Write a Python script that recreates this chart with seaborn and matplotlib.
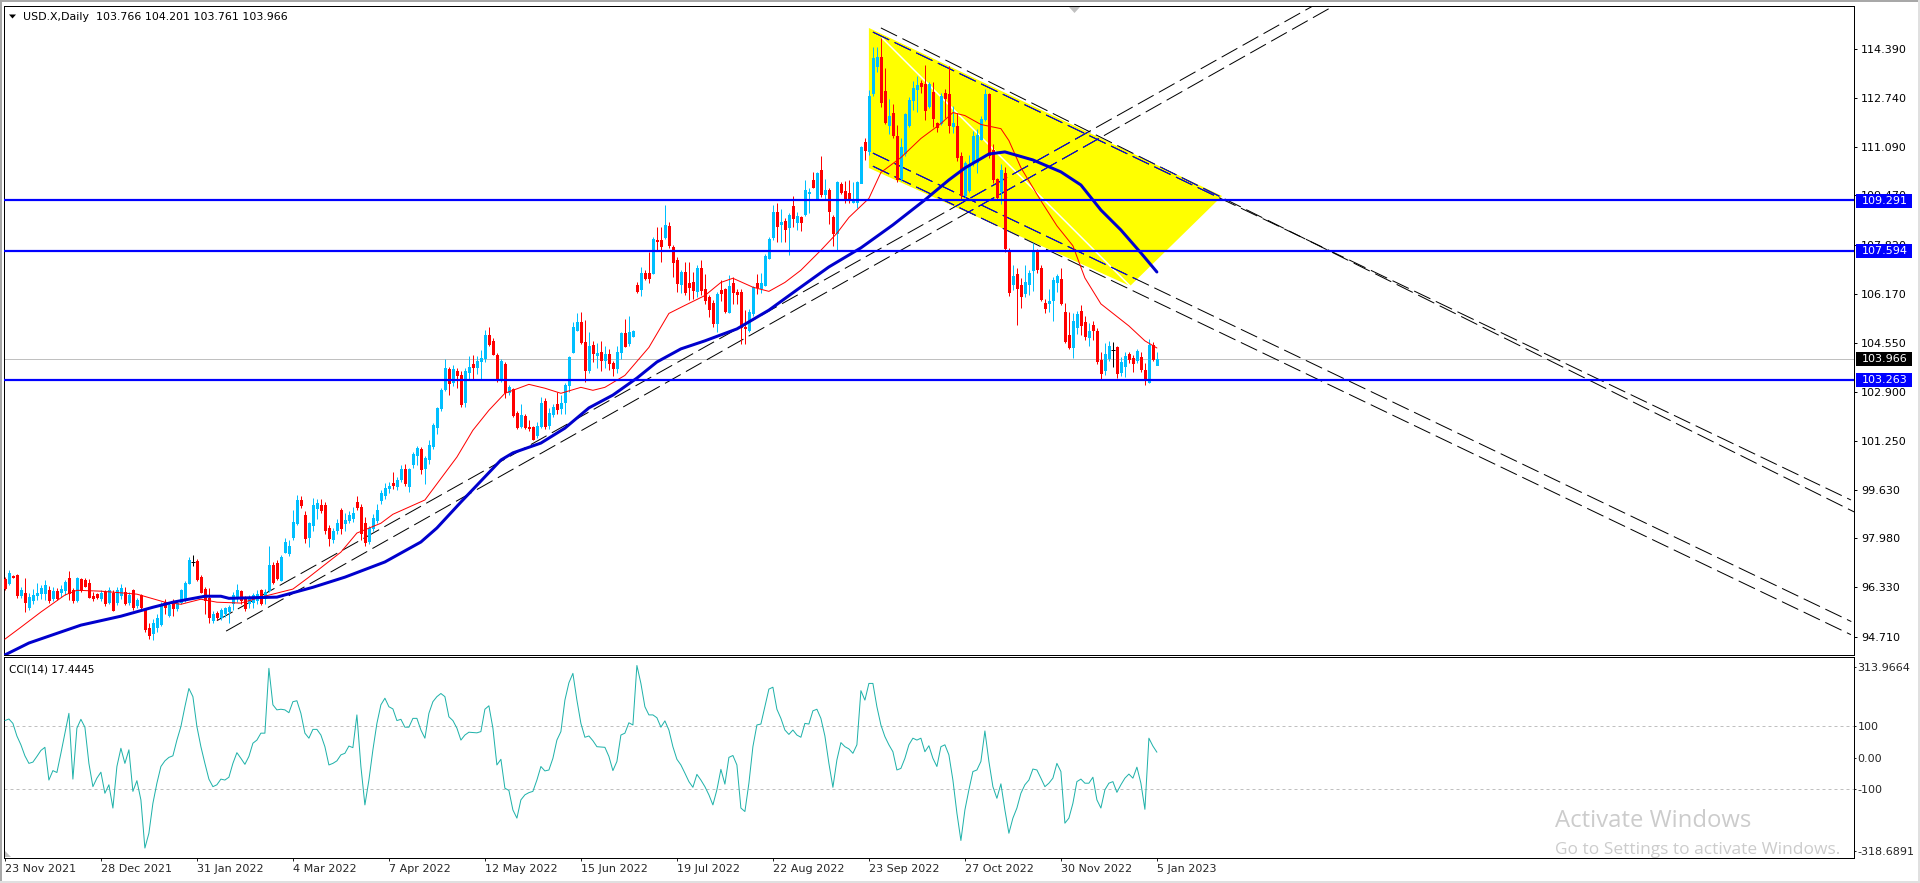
import numpy as np
import pandas as pd
import matplotlib.pyplot as plt
import seaborn as sns
from matplotlib.patches import Polygon, Rectangle
from matplotlib.transforms import blended_transform_factory

# candles, one row per 12 daily bars
opens = [
    96.58,96.43,96.69,96.71,96.04,96.10,95.65,95.87,96.04,96.10,96.10,96.21,
    95.93,96.19,96.15,96.21,96.60,96.21,95.87,96.57,96.54,96.43,96.00,96.06,
    95.93,96.15,95.82,96.10,95.82,96.04,96.15,95.82,96.21,95.71,96.04,95.54,
    94.92,94.76,94.98,95.07,95.82,95.37,95.82,95.59,95.82,95.93,96.46,97.16,
    97.19,96.66,96.23,95.93,95.20,95.43,95.29,95.43,95.52,95.76,95.93,96.19,
    95.98,95.76,95.82,95.87,96.21,95.93,96.21,97.05,97.10,96.55,97.50,97.44,
    98.00,98.45,99.23,98.73,98.00,98.39,98.95,99.06,99.06,98.28,97.91,98.22,
    98.89,98.45,98.56,98.61,99.17,99.00,98.45,97.87,98.28,98.56,99.23,99.40,
    99.62,99.79,99.70,99.92,100.28,99.70,100.43,100.74,100.95,100.29,100.60,101.04,
    101.69,102.30,102.97,103.61,103.20,103.57,103.42,102.53,103.53,103.79,103.70,103.89,
    104.00,104.76,104.57,104.09,103.25,103.79,102.86,102.94,102.14,101.71,102.05,101.69,
    101.67,101.41,101.72,102.55,101.74,102.10,102.44,102.30,102.53,103.09,104.20,104.93,
    105.20,104.54,103.59,104.43,104.09,104.20,103.93,104.13,103.81,103.65,104.20,104.84,
    104.51,104.73,106.44,106.31,106.83,106.83,106.83,107.95,107.97,108.06,108.42,107.71,
    107.28,106.48,106.89,106.52,106.55,106.24,107.00,106.30,106.03,105.85,105.18,106.27,
    106.31,105.55,106.50,106.22,106.22,105.05,104.93,105.51,106.50,106.33,106.44,107.36,
    108.06,108.90,108.49,108.60,108.40,109.09,108.57,108.71,108.83,109.52,109.97,109.35,
    110.30,109.50,109.63,108.71,108.20,109.83,109.60,109.54,109.24,109.22,109.88,111.23,
    110.95,112.88,113.80,114.11,112.96,111.82,112.21,111.45,110.03,110.86,111.82,112.65,
    113.01,113.21,113.19,112.45,112.93,111.87,111.87,112.88,112.84,111.78,111.78,110.78,
    109.47,109.63,110.58,110.58,111.33,112.00,112.86,110.98,109.99,109.61,110.19,107.56,
    106.48,106.81,106.45,106.19,106.47,106.95,107.62,107.03,105.83,105.85,105.94,106.55,
    106.64,105.54,104.77,104.38,105.05,105.57,105.21,104.71,105.10,104.90,103.93,103.59,
    104.01,104.26,104.35,103.54,103.73,104.13,104.01,103.93,104.04,103.59,103.20,104.43,
    103.766,
]
highs = [
    96.65,96.88,96.72,96.75,96.30,96.60,96.10,96.25,96.45,96.38,96.55,96.35,
    96.30,96.27,96.38,96.55,96.85,96.27,96.64,96.60,96.60,96.57,96.15,96.10,
    96.20,96.20,96.30,96.20,96.30,96.40,96.30,96.15,96.25,95.95,96.08,95.60,
    95.10,95.25,95.40,95.80,95.90,95.80,95.90,95.85,96.25,96.50,97.33,97.38,
    97.25,96.70,96.30,96.27,95.50,95.50,95.60,95.65,95.70,96.15,96.40,96.22,
    96.00,96.05,96.10,96.20,96.25,96.25,97.69,97.15,97.20,97.40,97.95,97.90,
    98.90,99.40,99.35,98.85,98.50,99.30,99.25,99.25,99.15,98.40,98.30,98.60,
    98.95,98.80,98.85,99.00,99.35,99.10,98.65,98.35,98.75,99.10,99.55,99.80,
    99.85,100.18,100.00,100.40,100.45,100.30,100.85,101.05,101.00,100.70,101.25,101.80,
    102.35,103.00,103.95,103.70,103.75,103.65,103.55,103.65,104.05,104.10,104.05,104.25,
    104.93,105.02,104.65,104.15,103.95,103.85,103.10,103.00,102.20,102.45,102.10,101.90,
    101.70,101.85,102.70,102.65,102.30,102.45,102.85,102.75,103.15,104.07,105.20,105.50,
    105.55,105.27,104.87,104.55,104.50,104.55,104.40,104.30,103.90,104.40,104.85,105.30,
    105.40,104.95,106.55,107.06,106.95,107.56,108.06,108.40,108.40,109.13,108.55,107.80,
    107.40,106.95,107.20,107.20,106.89,107.10,107.28,106.81,106.10,105.95,106.20,106.60,
    106.33,106.78,106.70,106.30,106.30,105.60,105.65,106.40,106.81,106.85,107.48,108.07,
    109.13,109.20,109.00,108.70,108.85,109.43,108.90,108.75,109.97,109.69,110.25,110.25,
    110.77,110.00,109.70,108.80,109.95,109.91,109.93,109.97,109.91,109.95,111.12,111.36,
    112.99,114.44,114.44,114.72,113.72,112.68,112.52,111.82,111.37,112.20,112.75,113.30,
    113.46,113.33,113.83,113.27,113.24,111.93,112.88,113.01,113.80,112.45,112.20,110.90,
    110.60,110.80,111.60,111.67,112.10,113.01,112.90,111.18,110.05,110.50,110.40,107.70,
    107.12,107.00,106.67,107.12,106.95,107.85,107.65,107.10,105.96,106.30,106.70,106.81,
    107.00,105.83,105.55,105.50,105.57,105.77,105.42,105.16,105.22,105.00,104.20,104.51,
    104.55,104.52,104.40,104.04,104.20,104.20,104.10,104.30,104.20,103.82,104.62,104.54,
    104.201,
]
lows = [
    96.20,96.37,96.60,95.95,95.95,95.48,95.55,95.75,95.86,95.92,95.86,95.76,
    95.85,95.87,95.98,96.04,95.87,95.76,95.82,96.15,96.30,95.93,95.85,95.90,
    95.85,95.67,95.75,95.50,95.70,95.90,95.70,95.70,95.55,95.60,95.55,94.80,
    94.55,94.53,94.80,95.00,95.40,95.30,95.35,95.50,95.75,95.80,96.40,97.00,
    96.50,96.10,95.40,95.10,95.09,95.20,95.20,95.30,95.09,95.55,95.80,95.75,
    95.50,95.60,95.60,95.75,95.70,95.75,96.15,96.40,96.55,96.50,97.45,97.35,
    97.90,98.40,98.95,97.80,97.65,98.20,98.60,98.80,98.10,97.67,97.80,98.10,
    98.10,98.20,98.45,98.50,98.90,97.90,97.67,97.75,98.20,98.45,99.10,99.25,
    99.45,99.60,99.55,99.85,99.70,99.50,100.30,100.40,100.10,99.76,100.45,100.95,
    101.45,102.20,102.90,102.75,103.05,103.00,102.35,102.35,103.30,103.30,103.45,103.30,
    103.85,104.40,104.10,103.20,103.20,102.65,102.75,102.00,101.60,101.65,101.60,101.55,
    101.25,101.30,101.65,101.60,101.60,102.00,102.10,102.10,102.10,102.85,104.15,104.90,
    104.45,103.20,103.50,103.85,103.65,103.55,103.65,103.60,103.40,103.50,103.95,104.35,
    104.40,104.70,106.16,106.07,106.60,106.50,106.80,107.60,107.22,108.00,107.70,106.70,
    106.22,106.16,106.10,105.94,105.99,106.05,106.10,105.80,105.38,105.05,104.88,105.90,
    105.50,105.50,105.80,105.80,104.48,104.46,104.85,105.40,106.14,106.16,106.40,107.30,
    107.95,107.90,107.90,107.90,107.45,108.40,108.30,108.26,108.75,108.85,109.69,109.28,
    109.40,109.30,108.50,107.75,107.62,109.50,109.18,109.18,109.20,109.02,109.85,110.64,
    110.81,112.80,113.60,112.43,111.85,111.50,111.37,109.91,109.95,110.78,111.76,112.30,
    112.26,112.88,111.98,112.38,111.74,111.59,111.80,112.04,111.56,111.53,110.60,109.30,
    109.40,109.55,110.45,110.20,111.30,111.95,110.70,109.88,109.30,109.15,107.55,106.08,
    106.28,105.10,105.66,106.05,106.10,106.25,106.85,105.90,105.49,105.55,105.22,106.20,
    105.77,104.50,104.29,104.00,104.80,104.77,104.60,104.40,104.60,103.80,103.30,103.43,
    103.90,103.70,103.31,103.40,103.37,103.82,103.52,103.82,103.51,103.09,103.17,103.90,
    103.761,
]
closes = [
    96.26,96.77,96.66,96.04,96.21,95.82,95.98,96.04,96.12,96.26,96.38,95.87,
    96.19,95.93,96.23,96.49,96.10,95.87,96.60,96.21,96.34,95.98,95.93,95.98,
    96.10,95.76,96.21,95.54,96.21,96.27,95.76,96.04,95.65,95.87,95.65,94.89,
    94.70,95.09,95.26,95.71,95.65,95.71,95.59,95.76,96.21,96.43,97.22,97.16,
    96.57,96.15,95.87,95.29,95.40,95.29,95.54,95.59,95.63,96.04,96.21,95.87,
    95.59,95.96,96.04,96.07,95.76,96.15,97.05,96.49,96.60,97.33,97.83,97.69,
    98.50,99.23,99.06,97.94,98.45,99.06,99.12,98.89,98.22,97.94,98.20,98.45,
    98.28,98.56,98.73,98.78,99.00,98.11,97.83,98.28,98.61,98.89,99.45,99.62,
    99.71,99.72,99.90,100.28,99.79,100.26,100.77,100.96,100.26,100.63,101.07,101.74,
    102.30,102.92,103.65,103.16,103.61,103.42,102.45,103.57,103.68,103.70,103.89,103.98,
    104.76,104.48,104.13,103.25,103.89,102.86,103.01,102.08,101.69,102.08,101.69,101.63,
    101.26,101.72,102.50,101.71,102.16,102.36,102.27,102.47,103.09,104.04,105.02,105.20,
    104.54,103.59,104.40,104.15,104.17,103.93,104.13,103.81,103.65,104.19,104.82,104.40,
    104.88,104.89,106.24,106.86,106.67,106.69,107.99,107.92,107.75,108.46,107.78,107.23,
    106.52,106.89,106.22,106.36,106.27,107.02,106.27,105.94,105.64,105.18,106.14,106.16,
    105.58,106.41,106.22,106.14,105.02,104.99,105.55,106.36,106.39,106.50,107.42,107.99,
    108.90,108.42,108.55,108.31,108.79,108.68,108.76,108.56,109.63,109.56,109.74,110.19,
    109.50,109.63,108.94,108.20,109.90,109.58,109.37,109.37,109.30,109.90,111.06,110.97,
    112.79,114.05,114.11,112.60,111.93,112.12,111.48,109.99,111.09,112.18,112.65,113.05,
    113.16,113.12,112.32,113.19,112.04,111.76,112.79,112.71,111.82,111.87,110.73,109.47,
    110.53,110.47,111.45,111.48,112.00,112.86,110.81,109.99,109.41,110.31,107.70,106.22,
    106.73,106.33,106.08,106.56,106.84,107.62,106.97,105.96,105.68,105.91,106.61,106.75,
    105.85,104.58,104.38,105.22,105.47,105.10,104.73,104.90,104.94,103.90,103.50,104.13,
    104.40,104.26,103.50,103.87,104.06,103.96,103.84,104.23,103.63,103.31,104.43,103.95,
    103.966,
]

# moving averages, read at the line's turning points
ma50_bars = [0,6,14,19,29,37,42,50,54,56,68,77,85,95,104,108,114,124,127,134,140,146,152,
             158,163,169,175,183,191,198,206,214,222,230,236,240,246,250,257,264,269,274,279,284,288]
ma50_vals = [94.03,94.43,94.80,95.03,95.33,95.63,95.80,96.00,96.00,95.93,95.97,96.30,96.64,
             97.15,97.82,98.29,99.16,100.57,100.81,101.14,101.64,102.32,102.75,103.32,103.86,
             104.30,104.57,104.97,105.60,106.28,107.05,107.69,108.46,109.30,109.97,110.37,
             110.84,110.91,110.64,110.24,109.80,108.96,108.29,107.52,106.88]
ma20_bars = [0,4,9,15,18,24,33,40,44,49,53,59,64,72,76,84,88,94,97,105,113,117,121,125,131,
             135,139,144,147,150,155,161,166,170,175,179,182,187,191,195,199,204,208,211,216,
             219,224,229,234,237,240,244,249,251,254,259,263,267,270,274,281,285,288]
ma20_vals = [94.56,94.96,95.47,96.04,96.20,96.17,96.07,95.80,95.73,95.90,95.80,95.77,95.97,
             96.24,96.64,97.48,98.12,98.45,98.75,99.23,100.67,101.57,102.24,102.81,103.11,
             102.98,102.81,103.01,102.91,103.01,103.41,104.35,105.49,105.76,106.09,106.53,
             106.67,106.37,106.23,106.53,106.94,107.61,108.18,108.71,109.35,110.22,110.72,
             111.36,111.86,112.23,112.13,111.83,111.69,111.29,110.38,109.27,108.43,107.76,
             106.68,105.81,105.07,104.57,104.33]

# CCI(14), one value per bar
cci_vals = [
    118,123,109,69,41,6,-18,-14,4,23,33,-71,-41,-47,14,78,141,-68,94,122,
    97,-18,-92,-65,-46,-113,-86,-160,-28,30,-18,25,-107,-73,-134,-287,-240,-145,-81,-28,
    -10,1,6,56,99,162,220,194,99,35,-18,-68,-92,-86,-68,-71,-62,-18,16,-2,
    -21,4,46,56,78,78,284,168,152,154,152,143,178,181,141,78,62,90,90,72,
    35,-23,-18,-10,9,14,37,32,136,-28,-150,-71,25,109,168,189,162,155,118,122,
    97,97,125,125,88,62,141,178,194,204,194,130,118,94,56,72,81,80,79,83,
    154,165,94,-23,-5,-97,-104,-166,-192,-134,-118,-111,-107,-71,-28,-42,-39,-2,56,83,
    183,238,268,183,109,65,69,54,35,34,33,4,-41,-12,72,78,111,104,293,
    236,162,136,136,127,97,117,88,35,-5,-23,-49,-76,-94,-53,-71,-92,-118,-150,-102,
    -37,-84,1,7,-23,-160,-171,-81,35,104,107,162,218,224,154,125,88,74,88,72,
    65,109,107,149,154,125,69,-18,-94,-7,48,35,28,14,41,213,183,236,236,162,
    104,67,41,19,-39,-34,-2,41,62,56,62,19,38,-2,-28,35,41,9,-71,-176,
    -263,-166,-102,-44,-39,-12,85,-12,-92,-129,-83,-166,-240,-192,-160,-113,-86,-71,-36,-39,
    -65,-92,-81,-65,-18,-44,-208,-192,-145,-76,-68,-81,-81,-62,-134,-160,-102,-81,-76,-110,
    -86,-65,-52,-65,-30,-81,-164,62,37,17.4445,
]

# drawn objects, as (bar, price) end points
up_channel = [((53.0, 95.18), (327.3, 115.83)), ((55.3, 94.83), (332.5, 115.83))]
down_channel = [((219.0, 115.07), (462.3, 98.83)), ((217.0, 114.93), (461.5, 99.23)),
                ((217.0, 110.87), (461.6, 95.15)), ((217.0, 110.43), (461.5, 94.71))]
yellow_bars = [216.0, 304.3, 281.3, 216.0]
yellow_prices = [115.07, 109.43, 106.41, 110.37]
white_bars = [219.3, 281.3]
white_prices = [114.73, 106.41]
level_prices = [109.291, 107.594, 103.263]
last_price = 103.966

price_tick_pos = [114.37,112.73,111.08,109.45,107.80,106.15,104.51,102.86,101.20,99.58,97.94,96.30,94.64]
price_tick_labels = ["114.390","112.740","111.090","109.470","107.820","106.170","104.550",
                     "102.900","101.250","99.630","97.980","96.330","94.710"]
cci_tick_pos = [289, 100, 0, -100, -295]
cci_tick_labels = ["313.9664", "100", "0.00", "-100", "-318.6891"]
date_bars = list(range(0, 289, 24))
date_labels = ["23 Nov 2021","28 Dec 2021","31 Jan 2022","4 Mar 2022","7 Apr 2022","12 May 2022",
               "15 Jun 2022","19 Jul 2022","22 Aug 2022","23 Sep 2022","27 Oct 2022","30 Nov 2022","5 Jan 2023"]

CANDLE_UP = "#00BFFF"
CANDLE_DOWN = "#FF0000"
LEVEL_BLUE = "#0000FF"
MA_BLUE = "#0000CD"
CCI_GREEN = "#20B2AA"
GRID_GRAY = "#C0C0C0"

W, H = 1920, 883
PX = 0.72  # one pixel in points at dpi 100
DASH = (0, (18, 6))

sns.set_theme(style="white", rc={"font.family": "DejaVu Sans", "font.size": 8.0,
                                 "axes.edgecolor": "black", "axes.linewidth": PX})

df = pd.DataFrame({"open": opens, "high": highs, "low": lows, "close": closes, "cci": cci_vals})
df["bar"] = np.arange(len(df))
df["color"] = np.where(df.close > df.open, CANDLE_UP, np.where(df.close < df.open, CANDLE_DOWN, "black"))

fig = plt.figure(figsize=(W / 100, H / 100), dpi=100, facecolor="white")


def pixel_axes(left, top, right, bottom):
    return fig.add_axes([left / W, 1 - bottom / H, (right - left) / W, (bottom - top) / H])


ax = pixel_axes(4, 6, 1854, 655)
sub = pixel_axes(4, 657, 1854, 858)
for a in (ax, sub):
    a.set_xlim(-0.225, 462.275)
ax.set_ylim(94.028, 115.806)
sub.set_ylim(-318.69, 320)

# yellow channel and the white line on it
yellow = Polygon(list(zip(yellow_bars, yellow_prices)), closed=True, facecolor="#FFFF00", edgecolor="none", zorder=1)
ax.add_patch(yellow)
ax.plot(white_bars, white_prices, color="white", lw=1.5 * PX, zorder=1.2)

# dashed trend lines: black on white, blue where they cross the yellow fill
for (a0, a1) in up_channel + down_channel:
    xs = [a0[0], a1[0]]
    ys = [a0[1], a1[1]]
    ax.plot(xs, ys, color="black", lw=PX, ls=DASH, zorder=1.5)
    over = ax.plot(xs, ys, color="#0000FF", lw=PX, ls=DASH, zorder=1.6)[0]
    over.set_clip_path(yellow)

# candles
ax.vlines(df.bar, df.low, df.high, colors=df.color, lw=PX, zorder=3)
body = df[df.close != df.open]
ax.vlines(body.bar, body.open, body.close, colors=body.color, lw=3 * PX, zorder=3.1, antialiased=False)
doji = df[df.close == df.open]
ax.hlines(doji.close, doji.bar - 0.4, doji.bar + 0.4, colors="black", lw=PX, zorder=3.1)

# moving averages
sns.lineplot(x=ma20_bars, y=ma20_vals, ax=ax, color=CANDLE_DOWN, linewidth=PX, zorder=4)
sns.lineplot(x=ma50_bars, y=ma50_vals, ax=ax, color=MA_BLUE, linewidth=3 * PX, zorder=4.5)

# price levels
ax.axhline(last_price, color=GRID_GRAY, lw=PX, zorder=1.3)
for level in level_prices:
    ax.axhline(level, color=LEVEL_BLUE, lw=2.2 * PX, zorder=5)

# CCI panel
sub.axhline(100, color=GRID_GRAY, lw=PX, ls=(0, (3, 3)))
sub.axhline(-100, color=GRID_GRAY, lw=PX, ls=(0, (3, 3)))
sns.lineplot(data=df, x="bar", y="cci", ax=sub, color=CCI_GREEN, linewidth=PX, zorder=3)

# axes
ax.set_xlabel("")
ax.set_ylabel("")
sub.set_xlabel("")
sub.set_ylabel("")
ax.set_xticks([])
ax.yaxis.tick_right()
ax.set_yticks(price_tick_pos, price_tick_labels)
ax.tick_params(axis="y", length=3 * PX, width=PX, pad=4 * PX, labelsize=8.0, colors="black", left=False, right=True)
sub.yaxis.tick_right()
sub.set_yticks(cci_tick_pos, cci_tick_labels)
sub.tick_params(axis="y", length=1.5 * PX, width=PX, pad=2 * PX, labelsize=8.0, left=False, right=True)
sub.set_xticks(date_bars, date_labels, ha="left")
sub.tick_params(axis="x", length=3 * PX, width=PX, pad=3 * PX, labelsize=8.0, bottom=True)

# price flags on the scale
trans = blended_transform_factory(ax.transAxes, ax.transData)
flag_w = 56 / 1850
flag_h = 14 / 29.8


def price_flag(price, color):
    ax.add_patch(Rectangle((1 + 2 / 1850, price - flag_h / 2 - 0.02), flag_w, flag_h, transform=trans,
                           facecolor=color, edgecolor="none", clip_on=False, zorder=8))
    ax.text(1 + 8 / 1850, price - 0.02, f"{price:.3f}", transform=trans, color="white", fontsize=8.0,
            va="center", ha="left", clip_on=False, zorder=9)


for level in level_prices:
    price_flag(level, LEVEL_BLUE)
price_flag(last_price, "black")

# titles and small chart furniture
fig.text(23 / W, 1 - 16.7 / H, "USD.X,Daily  103.766 104.201 103.761 103.966", fontsize=7.9, va="center", color="black")
fig.text(9 / W, 1 - 669 / H, "CCI(14) 17.4445", fontsize=7.5, va="center", color="black")
fig.add_artist(Polygon([(9 / W, 1 - 14.5 / H), (16 / W, 1 - 14.5 / H), (12.5 / W, 1 - 18.5 / H)],
                       transform=fig.transFigure, facecolor="black", edgecolor="none"))
fig.add_artist(Polygon([(1069 / W, 1 - 7 / H), (1080 / W, 1 - 7 / H), (1074.5 / W, 1 - 13 / H)],
                       transform=fig.transFigure, facecolor=GRID_GRAY, edgecolor="none"))
fig.add_artist(Polygon([(5 / W, 1 - 851 / H), (5 / W, 1 - 857 / H), (11 / W, 1 - 857 / H)],
                       transform=fig.transFigure, facecolor=GRID_GRAY, edgecolor="none"))

# window edge
for x, y, w, h, c in [(0, 0, W, 2, "#A8A8A8"), (0, 0, 1.5, H, "#A8A8A8"),
                      (W - 2, 0, 2, H, "#E0E0E0"), (0, H - 2, W, 2, "#E0E0E0")]:
    fig.add_artist(Rectangle((x / W, 1 - (y + h) / H), w / W, h / H, transform=fig.transFigure,
                             facecolor=c, edgecolor="none"))

# activation watermark
fig.text(1555 / W, 1 - 821 / H, "Activate Windows", fontsize=17.2, family="Open Sans", color="#CCCCCC", va="center")
fig.text(1555 / W, 1 - 849.5 / H, "Go to Settings to activate Windows.", fontsize=12.5, family="Open Sans",
         color="#CCCCCC", va="center")

fig.savefig("out.png", dpi=100, facecolor="white")
